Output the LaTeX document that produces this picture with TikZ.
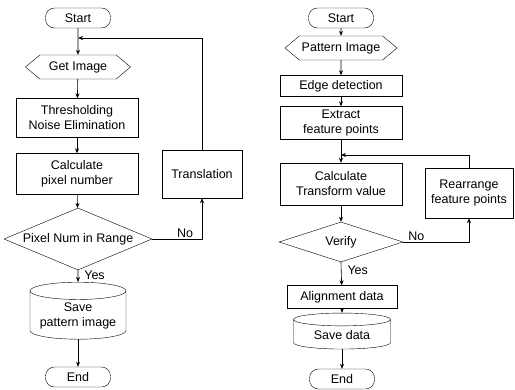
\documentclass[tikz,border=0pt]{standalone}
\usepackage{fontspec}
\setmainfont{Liberation Sans}
\usetikzlibrary{arrows.meta, positioning, shapes.geometric, shapes.symbols}

\begin{document}
\begin{tikzpicture}[x=1pt, y=-1pt,
    every node/.style={font=\fontsize{12.5}{15}\selectfont, align=center},
    term/.style={draw, rounded corners=9pt, minimum width=65pt, minimum height=20pt, inner sep=1pt},
    io/.style={draw, signal, signal to=west and east, signal pointer angle=80, minimum height=24pt, inner sep=1pt},
    proc/.style={draw, minimum width=122pt, inner sep=2pt},
    test/.style={draw, diamond, inner sep=0pt},
    store/.style={draw, cylinder, shape border rotate=90, aspect=0.22, inner sep=1pt},
    arr/.style={-{Stealth[length=5pt, width=4pt]}, semithick},
    lbl/.style={font=\fontsize{12.5}{14}\selectfont, inner sep=1pt}
]
\useasboundingbox (0,0) rectangle (515,389);
% Left chart: image capture
\node[term] (startL) at (78, 18) {Start};
\coordinate (loopL) at (78, 38);
\node[io, minimum width=105pt] (getimg) at (78, 67) {Get Image};
\node[proc, minimum height=39pt] (thresh) at (77, 118) {Thresholding\\Noise Elimination};
\node[proc, minimum height=41pt] (calcpx) at (77, 174) {Calculate\\pixel number};
\node[draw, minimum width=80pt, minimum height=48pt, inner sep=2pt] (trans) at (202, 174) {Translation};
\node[test, aspect=2.4, minimum width=148pt, minimum height=62pt] (range) at (78, 239) {Pixel Num in Range};
\node[store, minimum width=96pt, minimum height=57pt] (savepat) at (78, 316) {Save\\pattern image};
\node[term] (endL) at (78, 377) {End};
% Left connectors
\draw[arr] (startL) -- (getimg);
\draw[arr] (getimg) -- (thresh);
\draw[arr] (thresh) -- (calcpx);
\draw[arr] (calcpx) -- (range);
\draw[arr] (range.east) -| node[lbl, above, pos=0.33] {No} (trans.south);
\draw[arr] (trans.north) |- (loopL);
\draw[arr] (range.south) -- node[lbl, right=5pt, pos=0.45] {Yes} (savepat);
\draw[arr] (savepat) -- (endL);
% Right chart: pattern alignment
\node[term] (startR) at (341, 18) {Start};
\node[io, minimum width=112pt] (pattern) at (341, 48) {Pattern Image};
\node[proc, minimum height=21pt] (edge) at (341, 86) {Edge detection};
\node[proc, minimum height=33pt] (extract) at (341, 123) {Extract\\feature points};
\coordinate (loopR) at (341, 155);
\node[proc, minimum height=42pt] (calctf) at (341, 184) {Calculate\\Transform value};
\node[draw, minimum width=88pt, minimum height=50pt, inner sep=2pt] (rearr) at (469, 193) {Rearrange\\feature points};
\node[test, aspect=3.1, minimum width=124pt, minimum height=40pt] (verify) at (341, 242) {Verify};
\node[draw, minimum width=110pt, minimum height=23pt, inner sep=2pt] (align) at (342, 297) {Alignment data};
\node[store, minimum width=97pt, minimum height=36pt] (savedat) at (342, 335) {Save data};
\node[term] (endR) at (342, 379) {End};
% Right connectors
\draw[arr] (startR) -- (pattern);
\draw[arr] (pattern) -- (edge);
\draw[arr] (edge) -- (extract);
\draw[arr] (extract) -- (calctf);
\draw[arr] (calctf) -- (verify);
\draw[arr] (verify.east) -| node[lbl, above, pos=0.1] {No} (rearr.south);
\draw[arr] (rearr.north) |- (loopR);
\draw[arr] (verify.south) -- node[lbl, right=5pt, pos=0.35] {Yes} (align);
\draw[arr] (align) -- (savedat);
\draw[arr] (savedat) -- (endR);
\end{tikzpicture}
\end{document}
